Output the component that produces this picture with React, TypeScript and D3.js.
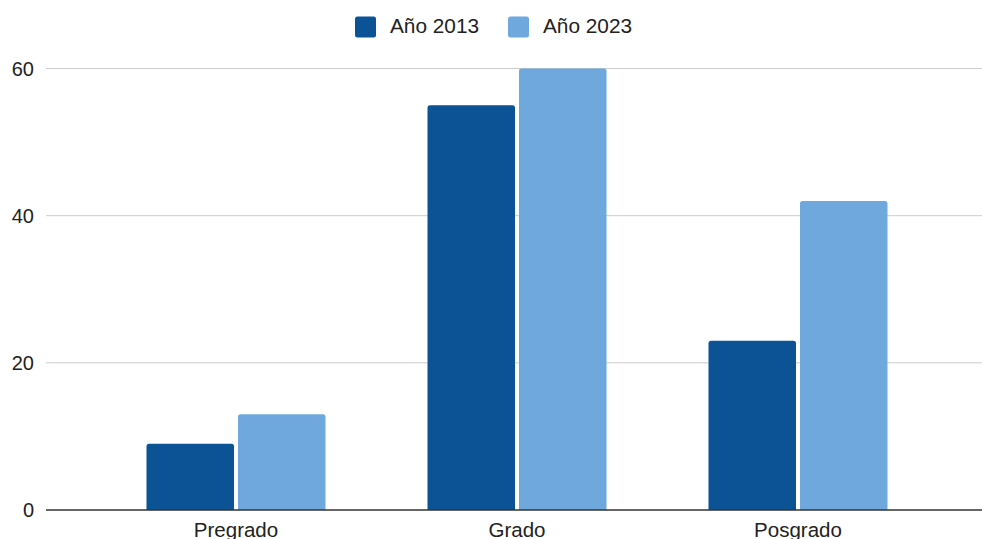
import * as React from "react";
import * as d3 from "d3";

// chart data
const categories = ["Pregrado", "Grado", "Posgrado"];
const seriesNames = ["Año 2013", "Año 2023"];
const values2013 = [9, 55, 23];
const values2023 = [13, 60, 42];
const yTicks = [0, 20, 40, 60];

const seriesColors = ["#0b5394", "#6fa8dc"];

const W = 982;
const H = 539;
const FONT = "'Liberation Sans', Arial, sans-serif";

// path for a bar with rounded top corners only
function barPath(x: number, y: number, w: number, h: number, r: number) {
  const rr = Math.min(r, h / 2, w / 2);
  return `M${x},${y + h}V${y + rr}Q${x},${y} ${x + rr},${y}H${x + w - rr}Q${x + w},${y} ${x + w},${y + rr}V${y + h}Z`;
}

export default function App() {
  const plotLeft = 46;
  const plotRight = W;

  const y = d3.scaleLinear().domain([0, 60]).range([510, 68.5]);

  const x0 = d3
    .scaleBand<string>()
    .domain(categories)
    .range([95.5, 938.5])
    .paddingInner(0.363)
    .paddingOuter(0.1815);

  const x1 = d3
    .scaleBand<string>()
    .domain(seriesNames)
    .range([0, x0.bandwidth()])
    .paddingInner(0.0437);

  const seriesValues = [values2013, values2023];
  const legendX = [355, 508];

  return (
    <svg
      width={W}
      height={H}
      style={{ position: "absolute", left: 0, top: 0, display: "block", background: "#fff" }}
      fontFamily={FONT}
    >
      {/* gridlines */}
      {yTicks.slice(1).map((t) => (
        <line key={t} x1={plotLeft} x2={plotRight} y1={y(t)} y2={y(t)} stroke="#cccccc" strokeWidth={1} />
      ))}

      {/* y tick labels */}
      {yTicks.map((t) => (
        <text key={t} x={34} y={y(t) + 7} textAnchor="end" fontSize={20} fill="#222">
          {t}
        </text>
      ))}

      {/* bars */}
      {categories.map((c, i) => (
        <g key={c} transform={`translate(${x0(c)},0)`}>
          {seriesNames.map((s, j) => {
            const v = seriesValues[j][i];
            const top = y(v);
            return (
              <path
                key={s}
                d={barPath(x1(s) ?? 0, top, x1.bandwidth(), y(0) - top, 2.5)}
                fill={seriesColors[j]}
              />
            );
          })}
        </g>
      ))}

      {/* baseline */}
      <line x1={plotLeft} x2={plotRight} y1={y(0)} y2={y(0)} stroke="#333" strokeWidth={1.5} />

      {/* category labels */}
      {categories.map((c) => (
        <text
          key={c}
          x={(x0(c) ?? 0) + x0.bandwidth() / 2}
          y={537}
          textAnchor="middle"
          fontSize={20.5}
          fill="#222"
        >
          {c}
        </text>
      ))}

      {/* legend */}
      {seriesNames.map((s, j) => (
        <g key={s} transform={`translate(${legendX[j]},0)`}>
          <rect x={0} y={16.5} width={21} height={21} rx={2.5} fill={seriesColors[j]} />
          <text x={35} y={33} fontSize={20.8} fill="#222">
            {s}
          </text>
        </g>
      ))}
    </svg>
  );
}
